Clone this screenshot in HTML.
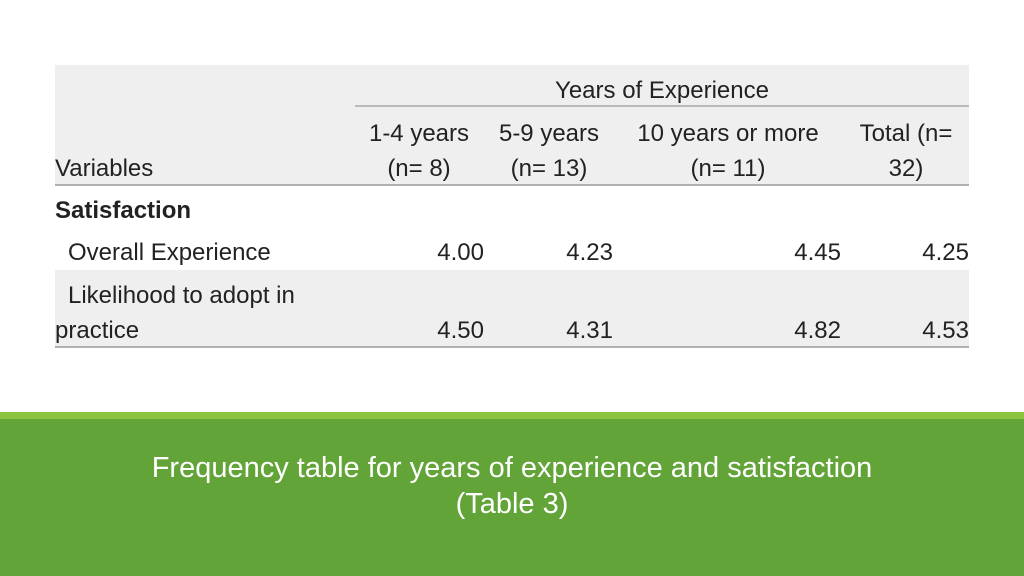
<!DOCTYPE html>
<html><head><meta charset="utf-8"><style>
html,body{margin:0;padding:0;background:#fff;}
svg{display:block;font-family:"Liberation Sans",sans-serif;}
</style></head><body>
<svg width="1024" height="576" viewBox="0 0 1024 576">
<rect x="55" y="65" width="914" height="120" fill="#efefef"/>
<rect x="55" y="270" width="914" height="77" fill="#efefef"/>
<line x1="355" y1="106" x2="969" y2="106" stroke="#9a9a9a" stroke-width="1.2"/>
<line x1="55" y1="185" x2="969" y2="185" stroke="#9a9a9a" stroke-width="1.5"/>
<line x1="55" y1="347" x2="969" y2="347" stroke="#9a9a9a" stroke-width="1.5"/>
<g font-size="24" fill="#222">
<text x="662" y="98" text-anchor="middle">Years of Experience</text>
<text x="419" y="141" text-anchor="middle">1-4 years</text>
<text x="419" y="176" text-anchor="middle">(n= 8)</text>
<text x="549" y="141" text-anchor="middle">5-9 years</text>
<text x="549" y="176" text-anchor="middle">(n= 13)</text>
<text x="728" y="141" text-anchor="middle">10 years or more</text>
<text x="728" y="176" text-anchor="middle">(n= 11)</text>
<text x="906" y="141" text-anchor="middle">Total (n=</text>
<text x="906" y="176" text-anchor="middle">32)</text>
<text x="55" y="176">Variables</text>
<text x="55" y="218" font-weight="bold">Satisfaction</text>
<text x="68" y="260">Overall Experience</text>
<text x="68" y="303">Likelihood to adopt in</text>
<text x="55" y="338">practice</text>
<g text-anchor="end">
<text x="484" y="260">4.00</text>
<text x="613" y="260">4.23</text>
<text x="841" y="260">4.45</text>
<text x="969" y="260">4.25</text>
<text x="484" y="338">4.50</text>
<text x="613" y="338">4.31</text>
<text x="841" y="338">4.82</text>
<text x="969" y="338">4.53</text>
</g>
</g>
<rect x="0" y="412" width="1024" height="7" fill="#8dc43f"/>
<rect x="0" y="419" width="1024" height="157" fill="#62a438"/>
<g font-size="29" fill="#ffffff" text-anchor="middle">
<text x="512" y="477">Frequency table for years of experience and satisfaction</text>
<text x="512" y="513">(Table 3)</text>
</g>
</svg>
</body></html>
